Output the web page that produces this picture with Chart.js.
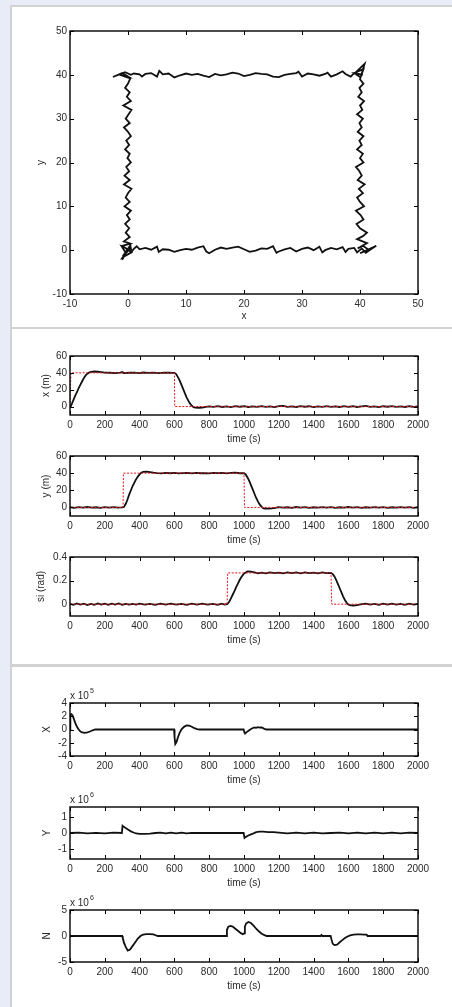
<!DOCTYPE html>
<html>
<head>
<meta charset="utf-8">
<script src="https://cdn.jsdelivr.net/npm/chart.js@4/dist/chart.umd.min.js"></script>
<style>
body{margin:0;background:#e8ecf6;width:452px;height:1007px;position:relative;overflow:hidden}
.panel{position:absolute;left:10px;width:460px;background:#fff;border:2px solid #d2d2d2}
.rule{position:absolute;left:12px;width:450px;height:2px;background:#d2d2d2}
canvas{position:absolute;left:0}
</style>
</head>
<body>
<div class="panel" style="top:5px;height:657px"></div>
<div class="rule" style="top:327px"></div>
<div class="panel" style="top:665px;height:400px"></div>
<script>
// tick labels
const timeTicks = [0,200,400,600,800,1000,1200,1400,1600,1800,2000];
const posTicks = [-10,0,10,20,30,40,50];
const metreTicks = [0,20,40,60];
const radTicks = [0,0.2,0.4];
const forceXTicks = [-4,-2,0,2,4];
const forceYTicks = [-1,0,1];
const forceNTicks = [-5,0,5];

// vessel path in the x-y plane [x, y]
const pathXY = [
 [-1,-2.2],[-0.4,-0.6],[-1.1,0.9],[0.2,0.1],[-0.9,-1.4],[0.4,1.1],[0.6,-0.4],[1,0.3],
 [1.5,0.9],[2,0.2],[3,0.5],[4,0.1],[5,0.8],[5.3,-0.4],[6,0.2],[7,0.1],[8,-0.4],[9,0],[10,0.3],[11,0.1],[12,0.6],[13,0.9],[13.5,-0.3],[14,-0.7],[15,0.1],[16,0.6],[17,0.3],[18,0.6],[19,0.8],[20,0.2],[21,-0.4],[22,-0.1],[23,0.4],[24,0.3],[25,0.9],[25.6,-0.6],[26,-0.3],[27,0.2],[28,0.5],[29,-0.3],[30,0.3],[31,0.6],[32,0],[33,0.8],[33.5,-0.5],[34,0],[35,0.5],[36,0.2],[37,0.7],[37.5,-0.4],[38,0.3],[39,0.5],[39.5,-0.5],
 [40.3,0.4],[41,-0.6],[42,0.3],[42.8,1],[40,-0.7],[41.5,0.1],[40.5,1],[39.6,0.4],[41.2,1.6],
 [39.5,2.5],[40.5,3.2],[41.2,4],[40,5],[39.4,6],[40.6,7],[40.1,8],[39.3,9],[40.7,10],[40,11],[39.5,12],[40.5,13],[39.8,14],[40.8,15],[39.6,16],[40.3,17],[39.9,18],[39.3,19],[40.6,20],[40,21],[40.5,22],[39.5,23],[40.3,24],[39.9,25],[40.6,26],[39.6,27],[40.3,28],[39.9,29],[40.5,30],[39.5,31],[40.4,32],[40,33],[40.7,34],[39.7,35],[40.3,36],[39.9,37],[40.6,38],[40,39],
 [40.8,42.5],[39.3,40.6],[40.6,41.3],[40.1,39.4],[39.1,40.3],[40.5,40],
 [39,40.4],[38.4,39.6],[37.5,40.2],[37,40.8],[36,40.1],[35,39.6],[34.4,40.5],[34,40.2],[33,39.8],[32,40.1],[31,40.3],[30,39.6],[29.4,40.7],[29,40.4],[28,40.2],[27,40],[26,39.5],[25,39.6],[24,40.1],[23,40.2],[22,40.4],[21,40],[20,39.7],[19,40.3],[18,40.5],[17,40.1],[16,39.9],[15,40.2],[14,39.5],[13,39.8],[12,40.2],[11,40],[10,40.3],[9,39.9],[8,39.4],[7,40.3],[6,40.1],[5.4,40.9],[5,39.6],[4,40.4],[3,40.2],[2.4,39.6],[2,40.1],[1,40.3],[0.5,40],
 [-0.5,40.6],[-2.6,39.5],[-1,40.4],[0,39.6],[-1.6,40.1],[0.4,39.2],
 [0,38],[-0.5,37],[0.3,36],[-0.2,35],[0.5,34],[-0.8,33],[0.6,32],[0.1,31],[-0.4,30],[0.3,29],[-0.7,28],[0,27],[0.5,26],[-0.3,25],[0.2,24],[-0.5,23],[0.3,22],[-0.1,21],[0.5,20],[-0.3,19],[0.2,18],[-0.6,17],[0.3,16],[-0.7,15],[0.6,14],[0,13],[-0.4,12],[0.3,11],[-0.6,10],[0.5,9],[-0.2,8],[0.3,7],[-0.5,6],[0.2,5],[-0.4,4],[0.3,3],[-0.7,2],[0.4,1.5],
 [-1,1],[0.6,-0.5],[-0.9,-1.6],[0.3,0.6],[0,0]
];

// x (m): reference and measured [time, value]
const xRef = [[0,0],[5,40],[600,40],[602,0],[2000,0]];
const xMeas = [[0,0],[5,1],[10,3],[20,8],[30,13],[40,17],[50,22],[60,26],[70,30],[80,34],[90,37],[100,39],[110,40.5],[120,41.2],[140,41.6],[160,41.3],[180,40.8],[200,40.3],[230,40.1],[260,39.7],[290,40.2],[300,40.9],[310,39.8],[340,40.1],[370,40.2],[400,39.7],[420,40.4],[450,40],[480,40.2],[510,39.8],[540,40.2],[570,40.1],[590,40],[600,40],[610,38.5],[620,35],[630,31],[640,26],[650,21],[660,16],[670,11],[680,7],[690,3.5],[700,1],[710,-0.8],[720,-1.3],[740,-1.4],[760,-1.2],[780,-0.4],[800,0.2],[825,-0.3],[850,0.6],[875,-0.5],[900,0.3],[925,-0.6],[950,0.5],[975,-0.2],[1000,0.4],[1025,-0.5],[1050,0.3],[1075,-0.4],[1100,0.6],[1125,-0.3],[1150,0.2],[1175,-0.6],[1200,0.5],[1225,0.8],[1250,-0.4],[1275,0.3],[1300,-0.5],[1325,0.6],[1350,-0.2],[1375,0.4],[1400,-0.6],[1425,0.3],[1450,-0.3],[1475,0.5],[1500,-0.4],[1525,0.2],[1550,-0.5],[1575,0.6],[1600,-0.3],[1625,0.4],[1650,-0.5],[1675,0.2],[1700,0.7],[1725,-0.4],[1750,0.3],[1775,-0.6],[1800,0.4],[1825,-0.2],[1850,0.5],[1875,-0.4],[1900,0.3],[1925,-0.5],[1950,0.4],[1975,-0.3],[2000,0.2]];

// y (m)
const yRef = [[0,0],[305,0],[307,40],[1000,40],[1003,0],[2000,0]];
const yMeas = [[0,0.2],[25,-0.4],[50,0.3],[75,-0.2],[100,0.5],[125,-0.3],[150,0.2],[175,-0.5],[200,0.3],[225,-0.2],[250,0.4],[275,-0.3],[300,0.1],[310,0.5],[320,4],[330,9],[340,15],[350,20],[360,25],[370,29],[380,33],[390,36],[400,38.5],[410,40.5],[420,41.5],[440,41.8],[460,41.3],[480,40.6],[500,40.1],[525,39.8],[550,40.3],[575,39.9],[600,40.2],[625,39.7],[650,40.1],[675,40.3],[700,39.8],[725,40.2],[750,39.9],[775,40.1],[800,39.7],[825,40.3],[850,40],[875,40.4],[900,39.8],[925,40.2],[950,40.5],[975,39.9],[1000,40],[1010,38.5],[1020,35],[1030,31],[1040,26],[1050,21],[1060,16],[1070,11],[1080,7],[1090,3.5],[1100,1],[1110,-0.8],[1120,-1.3],[1140,-1.4],[1160,-1.1],[1180,-0.4],[1200,0.4],[1225,-0.3],[1250,0.2],[1275,-0.4],[1300,0.5],[1325,-0.2],[1350,0.3],[1375,-0.5],[1400,0.2],[1425,-0.3],[1450,0.4],[1475,-0.2],[1500,0.3],[1525,-0.5],[1550,0.2],[1575,-0.3],[1600,0.5],[1625,-0.2],[1650,0.3],[1675,-0.4],[1700,0.2],[1725,-0.3],[1750,0.4],[1775,-0.2],[1800,0.3],[1825,-0.5],[1850,0.2],[1875,-0.3],[1900,0.4],[1925,-0.2],[1950,0.3],[1975,-0.4],[2000,0.2]];

// si (rad)
const siRef = [[0,0],[903,0],[906,0.265],[1500,0.265],[1504,0],[2000,0]];
const siMeas = [[0,0.004],[20,-0.006],[40,0.007],[60,-0.004],[80,0.005],[100,-0.007],[120,0.003],[140,-0.005],[160,0.006],[180,-0.003],[200,0.005],[220,-0.006],[240,0.004],[260,-0.004],[280,0.006],[300,-0.005],[320,0.003],[340,-0.004],[360,0.002],[380,-0.003],[400,0.004],[430,-0.004],[460,0.003],[490,-0.005],[520,0.004],[550,-0.003],[580,0.005],[610,-0.004],[640,0.003],[670,-0.005],[700,0.004],[730,-0.003],[760,0.005],[790,-0.004],[820,0.003],[850,-0.005],[870,0.004],[890,-0.003],[905,0.002],[915,0.02],[925,0.05],[935,0.08],[945,0.11],[955,0.145],[965,0.175],[975,0.205],[985,0.23],[995,0.25],[1005,0.265],[1020,0.278],[1040,0.276],[1060,0.27],[1080,0.262],[1100,0.268],[1125,0.262],[1150,0.27],[1175,0.263],[1200,0.268],[1225,0.261],[1250,0.27],[1275,0.264],[1300,0.269],[1325,0.262],[1350,0.27],[1375,0.263],[1400,0.268],[1425,0.261],[1450,0.27],[1475,0.264],[1500,0.266],[1510,0.255],[1520,0.235],[1530,0.205],[1540,0.17],[1550,0.135],[1560,0.1],[1570,0.065],[1580,0.035],[1590,0.012],[1600,-0.004],[1615,-0.01],[1630,-0.011],[1650,-0.007],[1670,-0.002],[1700,0.005],[1725,-0.004],[1750,0.003],[1775,-0.005],[1800,0.004],[1825,-0.003],[1850,0.005],[1875,-0.004],[1900,0.003],[1925,-0.005],[1950,0.004],[1975,-0.003],[2000,0.002]];

// thruster forces X (x 10^5), Y (x 10^6), N (x 10^6)
const forceX = [[0,0],[2,2.2],[8,2.3],[15,2.1],[22,1.6],[30,1.0],[40,0.4],[50,0],[60,-0.3],[70,-0.45],[85,-0.5],[100,-0.42],[115,-0.3],[130,-0.12],[145,0],[200,0],[300,0],[400,0],[500,0],[598,0],[601,-1.2],[605,-2.2],[612,-1.9],[620,-1.2],[630,-0.5],[640,0],[655,0.4],[670,0.6],[685,0.58],[700,0.42],[715,0.2],[730,0.05],[745,0],[850,0],[998,0],[1002,-0.4],[1006,-0.6],[1015,-0.4],[1030,-0.1],[1045,0.15],[1060,0.3],[1070,0.25],[1080,0.35],[1090,0.3],[1100,0.32],[1110,0.2],[1120,0.05],[1130,0],[1500,0],[2000,0]];
const forceY = [[0,0],[50,0.02],[100,-0.02],[150,0.01],[200,-0.02],[250,0.02],[298,0],[302,0.45],[310,0.38],[320,0.3],[335,0.2],[350,0.1],[365,0.03],[380,-0.03],[400,-0.05],[430,-0.05],[460,-0.04],[490,0],[520,0.02],[550,-0.02],[580,0.02],[610,-0.02],[640,0.02],[670,-0.02],[700,0.01],[750,0],[800,0],[850,0],[900,0],[950,0],[998,0],[1003,-0.3],[1010,-0.25],[1025,-0.15],[1040,-0.08],[1055,-0.02],[1070,0.05],[1090,0.08],[1110,0.08],[1140,0.06],[1170,0.05],[1200,0.02],[1250,-0.02],[1300,0.02],[1350,-0.02],[1400,0.02],[1450,-0.02],[1500,0],[1550,0.02],[1600,-0.02],[1650,0.02],[1700,-0.02],[1750,0.02],[1800,-0.02],[1850,0.02],[1900,-0.02],[1950,0.02],[2000,0]];
const forceN = [[0,0],[300,0],[303,-0.4],[310,-1.2],[320,-2.1],[332,-2.8],[345,-2.6],[360,-1.9],[375,-1.2],[390,-0.5],[405,0],[420,0.25],[440,0.35],[460,0.35],[480,0.3],[495,0.1],[505,0],[600,0],[700,0],[800,0],[898,0],[902,1.2],[910,1.8],[922,1.95],[935,1.8],[950,1.4],[965,1.0],[980,0.6],[993,0.35],[1000,0.5],[1005,1.8],[1012,2.4],[1025,2.7],[1040,2.5],[1055,2.0],[1070,1.4],[1085,0.9],[1100,0.5],[1115,0.2],[1130,0],[1300,0],[1440,0],[1445,0.2],[1450,0],[1498,0],[1503,-0.7],[1510,-1.5],[1520,-1.75],[1535,-1.65],[1550,-1.2],[1565,-0.8],[1580,-0.4],[1595,-0.1],[1610,0.1],[1630,0.25],[1650,0.3],[1670,0.3],[1690,0.25],[1705,0.25],[1710,0],[1800,0],[2000,0]];

const FONT = {family: '"Liberation Sans", Arial, sans-serif', size: 10};
const INK = '#2a2a2a';

// matlab style box with inward ticks, plus the "x 10^n" exponent
const frame = {
  id: 'frame',
  afterDatasetsDraw(chart, args, opts) {
    const {ctx, chartArea: a, scales} = chart;
    ctx.save();
    ctx.strokeStyle = '#000';
    ctx.lineWidth = 1;
    ctx.beginPath();
    scales.x.ticks.forEach(t => {
      const px = Math.round(scales.x.getPixelForValue(t.value)) + 0.5;
      ctx.moveTo(px, a.bottom); ctx.lineTo(px, a.bottom - 4);
      ctx.moveTo(px, a.top); ctx.lineTo(px, a.top + 4);
    });
    scales.y.ticks.forEach(t => {
      const py = Math.round(scales.y.getPixelForValue(t.value)) + 0.5;
      ctx.moveTo(a.left, py); ctx.lineTo(a.left + 4, py);
      ctx.moveTo(a.right, py); ctx.lineTo(a.right - 4, py);
    });
    ctx.stroke();
    ctx.lineWidth = 1.4;
    ctx.strokeRect(a.left, a.top, a.right - a.left, a.bottom - a.top);
    if (opts.exp) {
      ctx.fillStyle = INK;
      ctx.textBaseline = 'alphabetic';
      ctx.font = '10px "Liberation Sans", Arial, sans-serif';
      ctx.fillText('x 10', a.left, a.top - 4);
      const w = ctx.measureText('x 10').width;
      ctx.font = '7px "Liberation Sans", Arial, sans-serif';
      ctx.fillText(opts.exp, a.left + w + 1, a.top - 10);
    }
    ctx.restore();
  }
};

function axis(pos, min, max, ticks, title, titlePad) {
  return {
    type: 'linear', position: pos, min: min, max: max,
    afterBuildTicks: s => { s.ticks = ticks.map(v => ({value: v})); },
    afterFit: s => { if (pos === 'left') s.width = 70; else s.height = 38; },
    grid: {display: false, drawTicks: false},
    border: {display: false},
    ticks: {font: FONT, color: INK, padding: pos === 'left' ? 3 : 4, maxRotation: 0, autoSkip: false,
            callback: v => String(v)},
    title: {display: true, text: title, font: FONT, color: INK, padding: titlePad}
  };
}

function plot(top, bottom, series, x, y, exp) {
  const padTop = 24, axisH = 38;
  const c = document.createElement('canvas');
  c.width = 452;
  c.height = bottom - top + padTop + axisH;
  c.style.top = (top - padTop) + 'px';
  document.body.appendChild(c);
  new Chart(c, {
    type: 'line',
    data: {
      datasets: series.map(s => ({
        data: s.data.map(p => ({x: p[0], y: p[1]})),
        borderColor: s.color, borderWidth: s.width, borderDash: s.dash || [],
        pointRadius: 0, tension: 0, fill: false
      }))
    },
    options: {
      responsive: false, animation: false,
      layout: {padding: {top: padTop, right: 34, left: 0, bottom: 0}},
      plugins: {legend: {display: false}, tooltip: {enabled: false}, frame: {exp: exp}},
      scales: {x: x, y: y}
    },
    plugins: [frame]
  });
}

const black = d => ({data: d, color: '#111', width: 1.8});
const red = d => ({data: d, color: '#e8141c', width: 1, dash: [2, 1.5]});

plot(31, 294, [black(pathXY)],
  axis('bottom', -10, 50, posTicks, 'x', {top: 0, bottom: 10}),
  axis('left', -10, 50, posTicks, 'y', {top: 35, bottom: 0}));

plot(356, 415, [red(xRef), black(xMeas)],
  axis('bottom', 0, 2000, timeTicks, 'time (s)', {top: 0, bottom: 8}),
  axis('left', -10, 60, metreTicks, 'x (m)', {top: 40, bottom: 0}));
plot(456, 516, [red(yRef), black(yMeas)],
  axis('bottom', 0, 2000, timeTicks, 'time (s)', {top: 0, bottom: 8}),
  axis('left', -10, 60, metreTicks, 'y (m)', {top: 40, bottom: 0}));
plot(557, 616, [red(siRef), black(siMeas)],
  axis('bottom', 0, 2000, timeTicks, 'time (s)', {top: 0, bottom: 8}),
  axis('left', -0.1, 0.4, radTicks, 'si (rad)', {top: 35, bottom: 0}));

plot(703, 756, [black(forceX)],
  axis('bottom', 0, 2000, timeTicks, 'time (s)', {top: 0, bottom: 8}),
  axis('left', -4, 4, forceXTicks, 'X', {top: 41, bottom: 0}), '5');
plot(807, 859, [black(forceY)],
  axis('bottom', 0, 2000, timeTicks, 'time (s)', {top: 0, bottom: 8}),
  axis('left', -1.6, 1.6, forceYTicks, 'Y', {top: 41, bottom: 0}), '6');
plot(910, 962, [black(forceN)],
  axis('bottom', 0, 2000, timeTicks, 'time (s)', {top: 0, bottom: 8}),
  axis('left', -5, 5, forceNTicks, 'N', {top: 41, bottom: 0}), '6');
</script>
</body>
</html>
